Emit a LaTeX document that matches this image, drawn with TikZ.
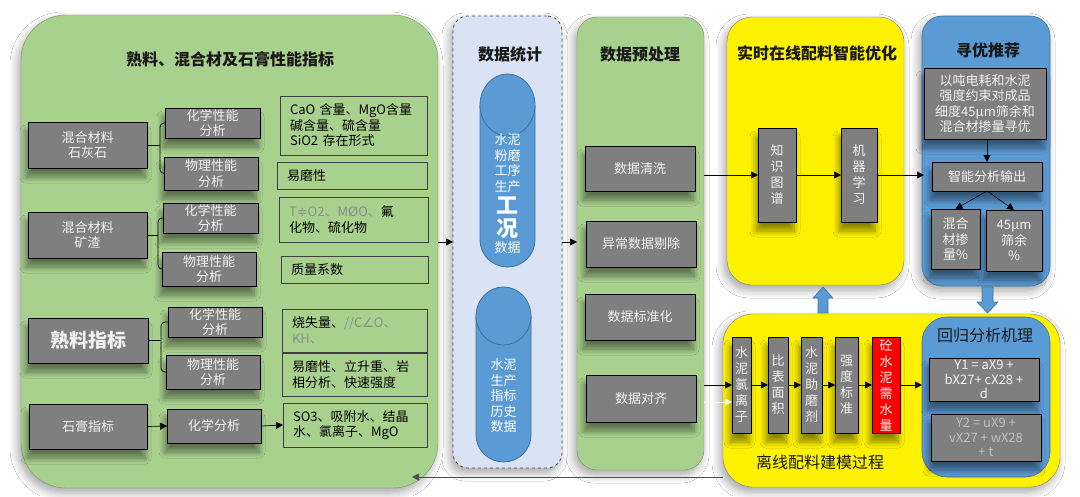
\documentclass[tikz,border=0pt]{standalone}
\usepackage{fontspec}
\setmainfont{Noto Sans CJK SC}
\newfontfamily\symf{DejaVu Sans}
\usetikzlibrary{arrows.meta,shadows.blur,calc}
\definecolor{pgreen}{HTML}{A9D18E}
\definecolor{boxgray}{HTML}{7F7F7F}
\definecolor{lblue}{HTML}{DAE3F3}
\definecolor{mblue}{HTML}{5B9BD5}
\definecolor{dblue}{HTML}{41719C}
\definecolor{txtgray}{HTML}{8C8C8C}
\begin{document}
\begin{tikzpicture}[x=1pt,y=-1pt,
  every node/.style={inner sep=0pt, outer sep=0pt},
  fs/.style={font=\fontsize{13}{15.5}\selectfont},
  gbox/.style={draw=black, line width=1pt, fill=boxgray, text=white!95!black, align=center, fs,
    blur shadow={shadow xshift=-2pt, shadow yshift=-9pt, shadow blur radius=6pt, shadow blur steps=8, shadow opacity=45}},
  vbox/.style={gbox, font=\fontsize{13}{16}\selectfont, minimum height=96pt},
  tbox/.style={draw=black!75, line width=0.8pt, align=left, inner xsep=10pt, text=black, fs},
  arr/.style={-{Triangle[length=7pt,width=7pt]}, line width=0.7pt},
  conn/.style={line width=0.8pt, rounded corners=4pt},
  ttl/.style={font=\fontsize{16}{18}\selectfont\bfseries, text=black!90},
  panelshadow/.style={blur shadow={shadow xshift=-3pt, shadow yshift=-5pt, shadow blur radius=8pt, shadow blur steps=8, shadow opacity=35}}
]
\useasboundingbox (0,0) rectangle (1080,496);
\fill[white] (0,0) rectangle (1080,496);

% ---------- panels ----------
\node[draw=pgreen!70!black, line width=0.4pt, fill=pgreen, rounded corners=45pt,
  minimum width=417pt, minimum height=473pt, panelshadow] (lp) at (229.5,251.5) {};
\node[draw=black!70, dashed, line width=0.8pt, fill=lblue, rounded corners=15pt,
  minimum width=109pt, minimum height=452pt, panelshadow] (ds) at (507.5,242) {};
\node[draw=pgreen!70!black, line width=0.4pt, fill=pgreen, rounded corners=20pt,
  minimum width=127pt, minimum height=453pt, panelshadow] (pp) at (640.5,243.5) {};
\node[draw=gray, line width=0.4pt, fill=yellow, rounded corners=25pt,
  minimum width=177pt, minimum height=268pt, panelshadow] (yt) at (815.5,151) {};
\node[draw=dblue, line width=0.6pt, fill=mblue, rounded corners=20pt,
  minimum width=128pt, minimum height=270pt, panelshadow] (bp) at (986,151) {};
\node[draw=gray, line width=0.4pt, fill=yellow, rounded corners=30pt,
  minimum width=337pt, minimum height=173pt, panelshadow] (off) at (891.5,400.5) {};
\node[draw=dblue, line width=0.6pt, fill=mblue, rounded corners=25pt,
  minimum width=128pt, minimum height=160pt] (ib) at (986,397) {};

% ---------- titles ----------
\node[ttl] (lpt) at (230,59) {熟料、混合材及石膏性能指标};
\node[ttl] (dst) at (510,54) {数据统计};
\node[ttl] (ppt) at (640,54) {数据预处理};
\node[ttl] (ytt) at (817,53) {实时在线配料智能优化};
\node[ttl] (bpt) at (988,50) {寻优推荐};
\node[font=\fontsize{16}{18}\selectfont, text=black!90] (ibt) at (985,335) {回归分析机理};
\node[font=\fontsize{16}{18}\selectfont, text=black!90] (offt) at (820,462) {离线配料建模过程};

% ---------- left panel rows ----------
\node[gbox, minimum width=119pt, minimum height=46pt] (a1) at (87.5,145) {混合材料\\石灰石};
\node[gbox, minimum width=95pt, minimum height=30pt] (a1c) at (212.5,123) {化学性能\\分析};
\node[gbox, minimum width=94pt, minimum height=33pt] (a1p) at (211,173.5) {物理性能\\分析};
\node[tbox, text width=127pt, minimum height=59pt] (t1) at (353.5,125.5) {CaO 含量、MgO含量\\碱含量、硫含量\\SiO2 存在形式};
\node[tbox, text width=130pt, minimum height=27pt] (t2) at (352,175.5) {易磨性};

\node[gbox, minimum width=119pt, minimum height=46pt] (a2) at (87.5,235) {混合材料\\矿渣};
\node[gbox, minimum width=95pt, minimum height=30pt] (a2c) at (210.5,218) {化学性能\\分析};
\node[gbox, minimum width=94pt, minimum height=34pt] (a2p) at (209,269) {物理性能\\分析};
\node[tbox, text width=129pt, minimum height=45pt] (t3) at (353.5,219.5)
  {\textcolor{txtgray}{T{\symf ≑}O2、M{\symf Ø}O、}氟\\化物、硫化物};
\node[tbox, text width=127pt, minimum height=27pt] (t4) at (354.5,269.5) {质量系数};

\node[gbox, minimum width=120pt, minimum height=45pt, font=\fontsize{19}{21}\selectfont\bfseries] (a3) at (88,340.5) {熟料指标};
\node[gbox, minimum width=94pt, minimum height=30pt] (a3c) at (215,322) {化学性能\\分析};
\node[gbox, minimum width=94pt, minimum height=34pt] (a3p) at (213,372) {物理性能\\分析};
\node[tbox, text width=125pt, minimum height=43pt] (t5) at (354.5,330.5)
  {烧失量、\textcolor{txtgray}{//C{\symf ∠}O、}\\\textcolor{txtgray}{KH、}};
\node[tbox, text width=125pt, minimum height=43pt] (t6) at (354.5,374.5) {易磨性、立升重、岩\\相分析、快速强度};

\node[gbox, minimum width=118pt, minimum height=45pt] (a4) at (88,426.5) {石膏指标};
\node[gbox, minimum width=94pt, minimum height=34pt] (a4c) at (214,426) {化学分析};
\node[tbox, text width=124pt, minimum height=44pt] (t7) at (355,425) {SO3、吸附水、结晶\\水、氯离子、MgO};

% brackets
\draw[conn] (a1.east) -- ++(13,0) coordinate (j1);
\draw[conn] (j1) |- (a1c.west);
\draw[conn] (j1) |- (a1p.west);
\draw[conn] (a2.east) -- ++(11,0) coordinate (j2);
\draw[conn] (j2) |- (a2c.west);
\draw[conn] (j2) |- (a2p.west);
\draw[conn] (a3.east) -- ++(13,0) coordinate (j3);
\draw[conn] (j3) |- (a3c.west);
\draw[conn] (j3) |- (a3p.west);
\draw[arr] (a4.east) -- (a4c.west);
\draw[arr] (a4c.east) -- (t7.west);

% ---------- data statistics cylinders ----------
\fill[mblue] (480,105) -- (480,240) arc[start angle=180, end angle=0, x radius=27.5, y radius=27] -- (535,105) -- cycle;
\draw[dblue, line width=0.8pt] (480,105) -- (480,240) arc[start angle=180, end angle=0, x radius=27.5, y radius=27] -- (535,105);
\draw[dblue, line width=0.8pt, fill=mblue] (507.5,105) ellipse [x radius=27.5, y radius=31];
\node[minimum width=55pt, minimum height=193pt] (cyl1) at (507.5,170.5) {};
\node[text=white, align=center, font=\fontsize{13}{15.5}\selectfont] (c1a) at (507.5,163) {水泥\\粉磨\\工序\\生产};
\node[text=white, align=center, font=\fontsize{22}{23}\selectfont\bfseries] (c1b) at (507.5,218) {工\\况};
\node[text=white, font=\fontsize{13}{15.5}\selectfont] (c1c) at (507.5,248) {数据};

\fill[mblue] (476,316) -- (476,435) arc[start angle=180, end angle=0, x radius=27.5, y radius=27] -- (531,316) -- cycle;
\draw[dblue, line width=0.8pt] (476,316) -- (476,435) arc[start angle=180, end angle=0, x radius=27.5, y radius=27] -- (531,316);
\draw[dblue, line width=0.8pt, fill=mblue] (503.5,316) ellipse [x radius=27.5, y radius=29];
\node[minimum width=55pt, minimum height=175pt] (cyl2) at (503.5,374.5) {};
\node[text=white, align=center, font=\fontsize{13}{15.5}\selectfont] (c2a) at (503.5,396) {水泥\\生产\\指标\\历史\\数据};

% ---------- preprocessing ----------
\node[gbox, minimum width=110pt, minimum height=45pt] (p1) at (640,168.5) {数据清洗};
\node[gbox, minimum width=110pt, minimum height=46pt] (p2) at (641,244) {异常数据剔除};
\node[gbox, minimum width=110pt, minimum height=46pt] (p3) at (640,317) {数据标准化};
\node[gbox, minimum width=110pt, minimum height=47pt] (p4) at (641,398.5) {数据对齐};

% ---------- online optimisation ----------
\node[gbox, minimum width=38pt, minimum height=94pt, font=\fontsize{13}{16}\selectfont] (kg) at (777,175) {知\\识\\图\\谱};
\node[gbox, minimum width=36pt, minimum height=94pt, font=\fontsize{13}{16}\selectfont] (ml) at (859,175) {机\\器\\学\\习};

% ---------- recommendation ----------
\node[gbox, minimum width=122pt, minimum height=71pt] (bq) at (985,103.5) {以吨电耗和水泥\\强度约束对成品\\细度45μm筛余和\\混合材掺量寻优};
\node[gbox, minimum width=110pt, minimum height=29pt] (so) at (987,176.5) {智能分析输出};
\node[gbox, minimum width=49pt, minimum height=60pt] (r1) at (955.5,239) {混合\\材掺\\量\%};
\node[gbox, minimum width=56pt, minimum height=61pt] (r2) at (1014,240.5) {45μm\\筛余\\\%};

% ---------- offline modelling ----------
\node[vbox, minimum width=19pt] (v1) at (741.5,385) {水\\泥\\氯\\离\\子};
\node[vbox, minimum width=20pt] (v2) at (778,385) {比\\表\\面\\积};
\node[vbox, minimum width=21pt] (v3) at (811.5,385) {水\\泥\\助\\磨\\剂};
\node[vbox, minimum width=23pt] (v4) at (846.5,385) {强\\度\\标\\准};
\node[vbox, minimum width=28pt, fill=red] (v5) at (886,385) {砼\\水\\泥\\需\\水\\量};
\node[gbox, minimum width=110pt, minimum height=43pt, font=\fontsize{13}{14.5}\selectfont] (y1) at (984,379.5) {Y1 = aX9 +\\bX27+ cX28 +\\d};
\node[gbox, minimum width=110pt, minimum height=47pt, text=black!25, font=\fontsize{13}{14.5}\selectfont] (y2) at (986,437.5) {Y2 = uX9 +\\vX27 + wX28\\+ t};

% ---------- connectors ----------
\draw[arr] (lp.east |- ds.west) -- (ds.west);
\draw[arr] (ds.east) -- (ds.east -| pp.west);
\draw[arr] (pp.east |- kg.west) -- (kg.west);
\draw[arr] (kg.east) -- (ml.west);
\draw[arr] (ml.east) -- ($(ml.east -| so.west)+(-8,0)$);
\draw[arr] (bq.south -| so.north) -- (so.north);
\draw[arr, line width=0.6pt] (so.south) -- (r1.north);
\draw[arr, line width=0.6pt] (so.south) -- (r2.north);
\draw[arr] (pp.east |- v1.west) -- (v1.west);
\draw[arr, white!92!gray] ($(pp.east |- v1.west)+(0,17)$) -- ($(v1.west)+(0,17)$);
\draw[arr] (v1.east) -- (v2.west);
\draw[arr] (v2.east) -- (v3.west);
\draw[arr] (v3.east) -- (v4.west);
\draw[arr] (v4.east) -- (v5.west);
\draw[arr] (v5.east) -- (v5.east -| ib.west);
\coordinate (fbs) at (723,477);
\coordinate (fbe) at (412,477);
\draw[arr, black!70] (fbs) -- (fbe);

% block arrows
\draw[dblue, fill=mblue, line width=0.6pt] (818,313) -- (818,298) -- (813,298) -- (823,287) -- (833,298) -- (828,298) -- (828,313) -- cycle;
\draw[dblue, fill=mblue, line width=0.6pt] (982,287) -- (982,302) -- (977,302) -- (987.5,313) -- (998,302) -- (993,302) -- (993,287) -- cycle;
\end{tikzpicture}
\end{document}
